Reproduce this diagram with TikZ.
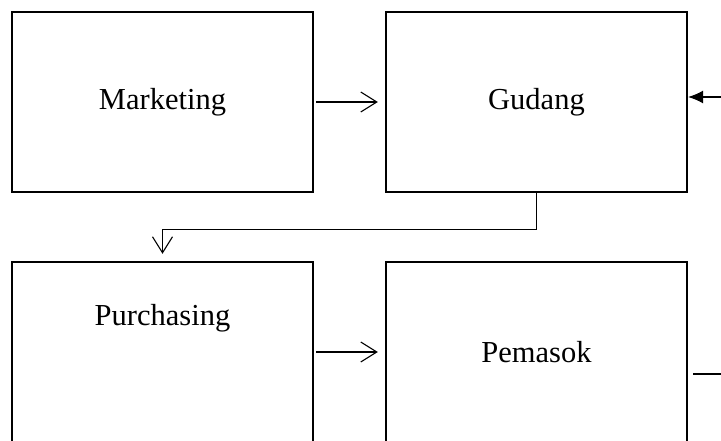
\documentclass[tikz,border=0pt]{standalone}
\usepackage{fontspec}
\setmainfont{Liberation Serif}
\usetikzlibrary{arrows.meta}

\tikzset{
  box/.style={draw, line width=2.4pt, minimum width=301pt, minimum height=180pt,
    inner sep=0pt, font=\fontsize{30.5}{36}\selectfont},
  label text/.style={inner sep=0pt, font=\fontsize{30.5}{36}\selectfont},
  conn/.style={line width=1.1pt, -{Straight Barb[length=16pt,width=20pt,line width=1.1pt]}},
  feed/.style={line width=1.1pt},
}

\begin{document}
\begin{tikzpicture}[x=1pt,y=-1pt]
\useasboundingbox[clip] (0,0) rectangle (721,441);

% top row
\node[box] (marketing) at (162.5,102) {Marketing};
\node[box] (gudang) at (536.5,102) {Gudang};

% bottom row, boxes run off the page
\node[box] (purch) at (162.5,352) {};
\node[label text, anchor=base] (purchtext) at ([yshift=-65pt]purch.north) {Purchasing};
\node[box] (pemasok) at (536.5,352) {Pemasok};

% flows between the boxes
\draw[conn] ([xshift=2pt]marketing.east) -- ([xshift=-7pt]gudang.west);
\draw[conn] (gudang.south) -- ++(0,36) -| ([yshift=7pt]purch.north);
\draw[conn] ([xshift=2pt]purch.east) -- ([xshift=-7pt]pemasok.west);

% lines coming in from the right edge
\coordinate (gin) at (721,97);
\draw[feed, -{Latex[length=15pt,width=13pt]}] (gin) -- (gudang.east |- gin);
\coordinate (pout) at (721,374);
\draw[feed] (pout) -- ([xshift=5pt]pemasok.east |- pout);

\end{tikzpicture}
\end{document}
